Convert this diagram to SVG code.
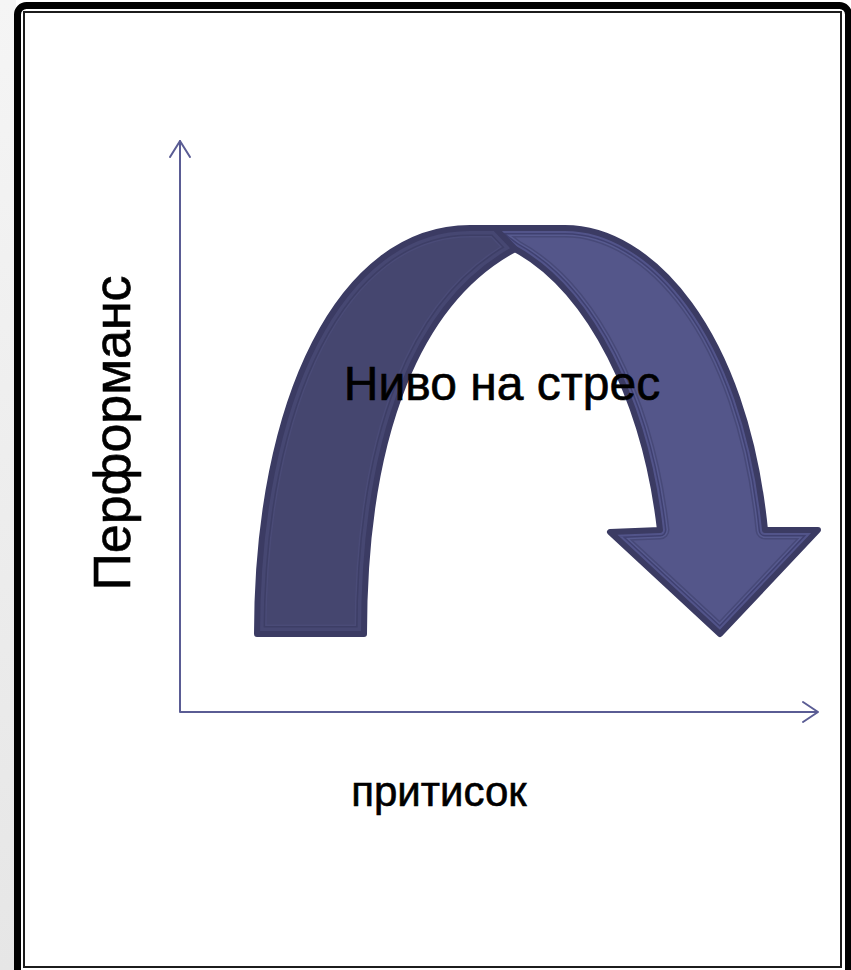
<svg xmlns="http://www.w3.org/2000/svg" width="851" height="970" viewBox="0 0 851 970">
<style>
.lbl{font-family:"Liberation Sans",Arial,"Noto Sans",sans-serif;fill:#000;stroke:#000;stroke-width:0.6}
.axis{fill:none;stroke:#5a5c94;stroke-width:2;stroke-linecap:round;stroke-linejoin:round}
.outline{fill:none;stroke:#3b3b63;stroke-width:6;stroke-linejoin:round}
</style>
<defs>
<linearGradient id="bg" x1="0" y1="0" x2="0" y2="1">
<stop offset="0" stop-color="#f5f5f5"/>
<stop offset="1" stop-color="#e6e6e6"/>
</linearGradient>
<path id="leftBand" d="M257,634 C257,400 340,228 470,228 L495,228 L515,249 C420,300 364,430 364,634 Z"/>
<path id="rightBand" d="M487,228 L565,228 C650,228 745,330 765,530 L818,530 L720,634 L610,532 L660,530 C645,400 590,290 515,249 Z"/>
<clipPath id="clipL"><use href="#leftBand"/></clipPath>
<clipPath id="clipR"><use href="#rightBand"/></clipPath>
</defs>
<rect x="0" y="0" width="851" height="970" fill="#ffffff"/>
<rect x="0" y="0" width="16" height="970" fill="url(#bg)"/>
<g id="frame">
<rect x="17.5" y="5.5" width="831" height="985" rx="9" fill="#ffffff" stroke="#000000" stroke-width="7"/>
<rect x="24" y="12" width="817" height="955" fill="none" stroke="#1c1c1c" stroke-width="2"/>
</g>
<g id="connectors">
<path class="axis" d="M180,141 L180,712 L817,712"/>
<path class="axis" d="M170,157 L180,141 L190,157"/>
<path class="axis" d="M803,702 L818,712 L803,722"/>
</g>
<g id="stress-arrow">
<g id="arrow-right">
<g clip-path="url(#clipR)">
<use href="#rightBand" fill="#54568a"/>
<use href="#rightBand" fill="none" stroke="#474978" stroke-width="19" stroke-linejoin="round"/>
<use href="#rightBand" fill="none" stroke="#575a8f" stroke-width="16" stroke-linejoin="round"/>
<use href="#rightBand" fill="none" stroke="#3f4070" stroke-width="13" stroke-linejoin="round"/>
<use href="#rightBand" fill="none" stroke="#52548a" stroke-width="10" stroke-linejoin="round"/>
</g>
<use href="#rightBand" class="outline"/>
</g>
<g id="arrow-left">
<g clip-path="url(#clipL)">
<use href="#leftBand" fill="#45466f"/>
<use href="#leftBand" fill="none" stroke="#4a4b77" stroke-width="19" stroke-linejoin="round"/>
<use href="#leftBand" fill="none" stroke="#3d3e66" stroke-width="16" stroke-linejoin="round"/>
<use href="#leftBand" fill="none" stroke="#464772" stroke-width="13" stroke-linejoin="round"/>
</g>
<use href="#leftBand" class="outline"/>
</g>
<text class="lbl" x="502" y="400" font-size="48" text-anchor="middle">Ниво на стрес</text>
</g>
<g id="y-label">
<text class="lbl" transform="translate(130,433) rotate(-90)" font-size="52" text-anchor="middle">Перформанс</text>
</g>
<g id="x-label">
<text class="lbl" x="439" y="806" font-size="42" text-anchor="middle">притисок</text>
</g>
</svg>
